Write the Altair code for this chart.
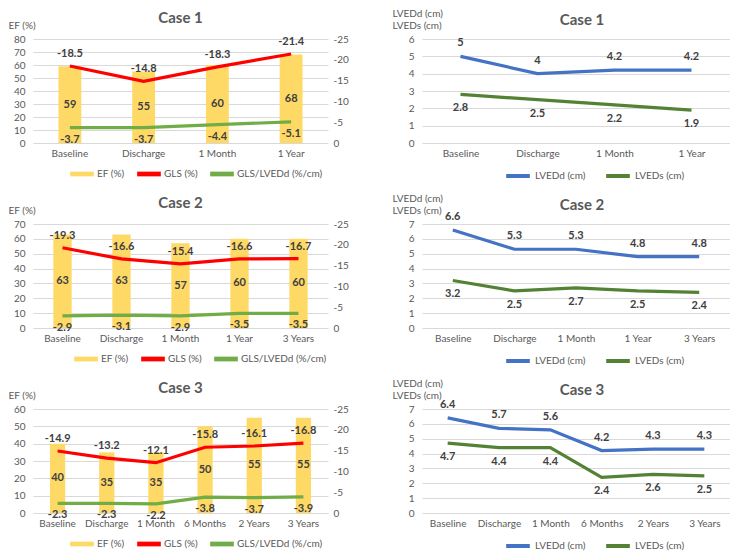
import altair as alt
import pandas as pd

FONT = "Lato"
GRAY = "#595959"
LABEL = "#404040"
GRID = "#D9D9D9"

# ---------------- data ----------------
case1_cats = ["Baseline", "Discharge", "1  Month", "1 Year"]
case1_ef = [59, 55, 60, 68]
case1_gls = [-18.5, -14.8, -18.3, -21.4]
case1_glsd = [-3.7, -3.7, -4.4, -5.1]
case1_lvedd = [5, 4, 4.2, 4.2]
case1_lveds = [2.8, 2.5, 2.2, 1.9]

case2_cats = ["Baseline", "Discharge", "1 Month", "1 Year", "3 Years"]
case2_ef = [63, 63, 57, 60, 60]
case2_gls = [-19.3, -16.6, -15.4, -16.6, -16.7]
case2_glsd = [-2.9, -3.1, -2.9, -3.5, -3.5]
case2_lvedd = [6.6, 5.3, 5.3, 4.8, 4.8]
case2_lveds = [3.2, 2.5, 2.7, 2.5, 2.4]

case3_cats = ["Baseline", "Discharge", "1 Month", "6 Months", "2 Years", "3 Years"]
case3_ef = [40, 35, 35, 50, 55, 55]
case3_gls = [-14.9, -13.2, -12.1, -15.8, -16.1, -16.8]
case3_glsd = [-2.3, -2.3, -2.2, -3.8, -3.7, -3.9]
case3_lvedd = [6.4, 5.7, 5.6, 4.2, 4.3, 4.3]
case3_lveds = [4.7, 4.4, 4.4, 2.4, 2.6, 2.5]

left_series = ["EF (%)", "GLS (%)", "GLS/LVEDd (%/cm)"]
left_colors = ["#FFD966", "#FF0000", "#70AD47"]
right_series = ["LVEDd (cm)", "LVEDs (cm)"]
right_colors = ["#4472C4", "#548235"]

W_L = 295
W_R = 308
H = 104
BOX = "M-1,-0.2H1V0.2H-1Z"
LINE = "M-1,0H1"


def fmt(v):
    return str(v)


def title_params(text, dx, offset):
    return alt.TitleParams(text, fontSize=15, fontWeight="bold", color=GRAY,
                           anchor="middle", frame="group", font=FONT, offset=offset, dx=dx)


def xaxis():
    return alt.Axis(title=None, labelAngle=0, ticks=False, domain=False, grid=False,
                    labelColor=GRAY, labelFontSize=10, labelPadding=5, labelFont=FONT)


def legend(legx, h, symbol, stroke):
    return alt.Legend(title=None, orient="none", direction="horizontal",
                      legendX=legx, legendY=h + 19, symbolType=symbol,
                      symbolSize=560, symbolStrokeWidth=stroke, padding=0,
                      labelFontSize=10, labelColor=GRAY, labelFont=FONT,
                      columnPadding=12, labelOffset=3)


def left_panel(title, cats, ef, gls, glsd, ymax, h, legx):
    dfb = pd.DataFrame({"cat": cats, "EF": ef, "EF_mid": [v / 2 for v in ef],
                        "lbl": [fmt(v) for v in ef], "series": "EF (%)"})
    rows = []
    for c, a, b in zip(cats, gls, glsd):
        rows.append({"cat": c, "series": "GLS (%)", "value": a, "lbl": fmt(a)})
        rows.append({"cat": c, "series": "GLS/LVEDd (%/cm)", "value": b, "lbl": fmt(b)})
    dfl = pd.DataFrame(rows)

    x = alt.X("cat:N", sort=cats,
              scale=alt.Scale(type="band", paddingInner=0.69, paddingOuter=0.345),
              axis=xaxis())
    yl_scale = alt.Scale(domain=[0, ymax], nice=False)
    yl_axis = alt.Axis(values=list(range(0, ymax + 1, 10)), title="EF (%)", titleAngle=0,
                       titleAlign="left", titleBaseline="middle", titleX=-25, titleY=-14,
                       titleFontWeight="normal", titleFontSize=10, titleColor=GRAY,
                       titleFont=FONT,
                       grid=True, gridColor=GRID, domain=False, ticks=False,
                       labelColor=GRAY, labelFontSize=10, labelPadding=8, labelFont=FONT)
    yr_scale = alt.Scale(domain=[0, -25], nice=False, zero=False)
    yr_axis = alt.Axis(orient="right", values=[0, -5, -10, -15, -20, -25], title=None,
                       grid=False, domain=False, ticks=False, labelColor=GRAY,
                       labelFontSize=10, labelPadding=5, labelFont=FONT,
                       labelExpr="replace(datum.label, '\u2212', '-')")
    color = alt.Color("series:N",
                      scale=alt.Scale(domain=left_series, range=left_colors),
                      legend=legend(legx, h, BOX, 0))

    bars = alt.Chart(dfb).mark_bar(color="#FFD966").encode(
        x=x, y=alt.Y("EF:Q", scale=yl_scale, axis=yl_axis), color=color)
    ef_text = alt.Chart(dfb).mark_text(fontWeight="bold", fontSize=11, color=LABEL,
                                       font=FONT).encode(
        x=x, y=alt.Y("EF_mid:Q", scale=yl_scale, axis=yl_axis), text="lbl:N")

    lines = alt.Chart(dfl).mark_line(strokeWidth=3.2).encode(
        x=x, y=alt.Y("value:Q", scale=yr_scale, axis=yr_axis), color=color,
        detail="series:N")
    t_gls = alt.Chart(dfl).transform_filter("datum.series == 'GLS (%)'").mark_text(
        dy=-12, fontWeight="bold", fontSize=11, color=LABEL, font=FONT).encode(
        x=x, y=alt.Y("value:Q", scale=yr_scale, axis=yr_axis), text="lbl:N")
    t_glsd = alt.Chart(dfl).transform_filter("datum.series != 'GLS (%)'").mark_text(
        dy=12, fontWeight="bold", fontSize=11, color=LABEL, font=FONT).encode(
        x=x, y=alt.Y("value:Q", scale=yr_scale, axis=yr_axis), text="lbl:N")

    left = alt.layer(bars, ef_text)
    right = alt.layer(lines, t_gls, t_glsd)
    return alt.layer(left, right).resolve_scale(y="independent").properties(
        width=W_L, height=h, title=title_params(title, 0, -6))


def right_panel(title, cats, lvedd, lveds, ymax, h, legx):
    rows = []
    for c, a, b in zip(cats, lvedd, lveds):
        rows.append({"cat": c, "series": "LVEDd (cm)", "value": a, "lbl": fmt(a)})
        rows.append({"cat": c, "series": "LVEDs (cm)", "value": b, "lbl": fmt(b)})
    df = pd.DataFrame(rows)
    x = alt.X("cat:N", sort=cats, scale=alt.Scale(type="point", padding=0.5), axis=xaxis())
    y_scale = alt.Scale(domain=[0, ymax], nice=False)
    y_axis = alt.Axis(values=list(range(0, ymax + 1)), title=["LVEDd (cm)", "LVEDs (cm)"],
                      titleAngle=0, titleAlign="left", titleBaseline="middle",
                      titleX=-30, titleY=-26, titleFontWeight="normal", titleFontSize=10,
                      titleColor=GRAY, titleFont=FONT, titleLineHeight=12,
                      grid=True, gridColor=GRID, domain=False, ticks=False,
                      labelColor=GRAY, labelFontSize=10, labelPadding=8, labelFont=FONT)
    y = alt.Y("value:Q", scale=y_scale, axis=y_axis)
    color = alt.Color("series:N", scale=alt.Scale(domain=right_series, range=right_colors),
                      legend=legend(legx, h, LINE, 4))
    line = alt.Chart(df).mark_line(strokeWidth=3.2).encode(x=x, y=y, color=color)
    td = alt.Chart(df).transform_filter("datum.series == 'LVEDd (cm)'").mark_text(
        dy=-13, fontWeight="bold", fontSize=11, color=LABEL, font=FONT).encode(
        x=x, y=y, text="lbl:N")
    ts = alt.Chart(df).transform_filter("datum.series == 'LVEDs (cm)'").mark_text(
        dy=14, fontWeight="bold", fontSize=11, color=LABEL, font=FONT).encode(
        x=x, y=y, text="lbl:N")
    return alt.layer(line, td, ts).properties(width=W_R, height=h,
                                              title=title_params(title, 6, -20))


l1 = left_panel("Case 1", case1_cats, case1_ef, case1_gls, case1_glsd, 80, H, 37)
l2 = left_panel("Case 2", case2_cats, case2_ef, case2_gls, case2_glsd, 70, H, 41)
l3 = left_panel("Case 3", case3_cats, case3_ef, case3_gls, case3_glsd, 60, H, 37)
r1 = right_panel("Case 1", case1_cats, case1_lvedd, case1_lveds, 6, H, 82)
r2 = right_panel("Case 2", case2_cats, case2_lvedd, case2_lveds, 7, H, 82)
r3 = right_panel("Case 3", case3_cats, case3_lvedd, case3_lveds, 7, H, 82)

chart = alt.concat(l1, r1, l2, r2, l3, r3, columns=2,
                   spacing=alt.RowColnumber(row=9, column=43)).resolve_scale(
    color="independent").resolve_legend(color="independent").properties(
    padding=0).configure(font=FONT).configure_view(stroke=None)

chart.save("out.html", embed_options={"renderer": "svg", "actions": False})
